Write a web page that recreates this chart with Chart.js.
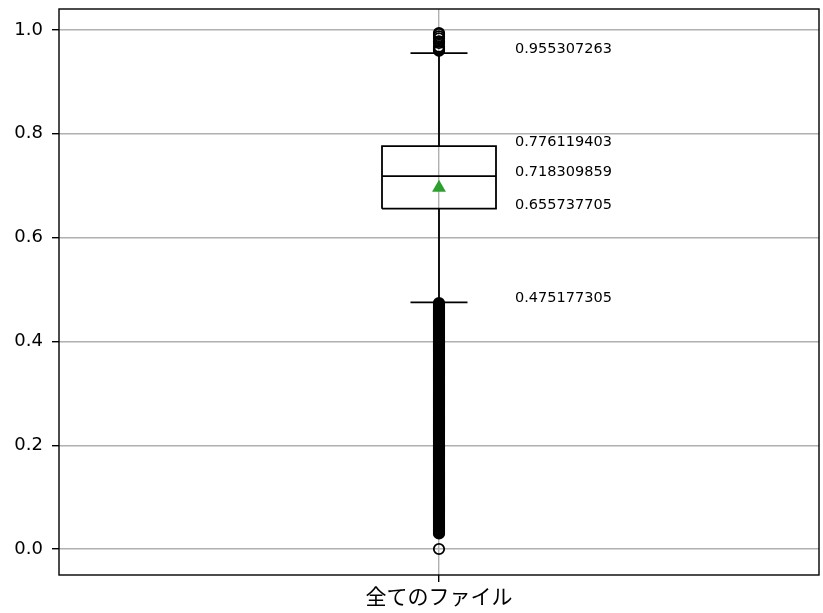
<!DOCTYPE html>
<html>
<head>
<meta charset="utf-8">
<script src="https://cdn.jsdelivr.net/npm/chart.js@4.4.0/dist/chart.umd.min.js"></script>
<style>
  html, body { margin: 0; padding: 0; background: #fff; overflow: hidden; }
  #wrap { width: 823px; height: 613px; }
  canvas { display: block; }
</style>
</head>
<body>
<div id="wrap"><canvas id="boxChart"></canvas></div>
<script>
// 箱ひげ図の値
const categories = ['全てのファイル'];
const whiskerLow = 0.475177305;
const q1 = 0.655737705;
const median = 0.718309859;
const q3 = 0.776119403;
const whiskerHigh = 0.955307263;
const meanValue = 0.696;
const outliersHigh = [0.96, 0.962, 0.965, 0.968, 0.975, 0.978, 0.984, 0.988, 0.992, 0.994];
// 下側の外れ値 (ほぼ連続して並んでいる)
const outliersLow = [
    0.474, 0.472, 0.470, 0.468, 0.466, 0.464, 0.462, 0.460, 0.458, 0.456, 0.454, 0.452,
    0.450, 0.448, 0.446, 0.444, 0.442, 0.440, 0.438, 0.436, 0.434, 0.432, 0.430, 0.428,
    0.426, 0.424, 0.422, 0.420, 0.418, 0.416, 0.414, 0.412, 0.410, 0.408, 0.406, 0.404,
    0.402, 0.400, 0.398, 0.396, 0.394, 0.392, 0.390, 0.388, 0.386, 0.384, 0.382, 0.380,
    0.378, 0.376, 0.374, 0.372, 0.370, 0.368, 0.366, 0.364, 0.362, 0.360, 0.358, 0.356,
    0.354, 0.352, 0.350, 0.348, 0.346, 0.344, 0.342, 0.340, 0.338, 0.336, 0.334, 0.332,
    0.330, 0.328, 0.326, 0.324, 0.322, 0.320, 0.318, 0.316, 0.314, 0.312, 0.310, 0.308,
    0.306, 0.304, 0.302, 0.300, 0.298, 0.296, 0.294, 0.292, 0.290, 0.288, 0.286, 0.284,
    0.282, 0.280, 0.278, 0.276, 0.274, 0.272, 0.270, 0.268, 0.266, 0.264, 0.262, 0.260,
    0.258, 0.256, 0.254, 0.252, 0.250, 0.248, 0.246, 0.244, 0.242, 0.240, 0.238, 0.236,
    0.234, 0.232, 0.230, 0.228, 0.226, 0.224, 0.222, 0.220, 0.218, 0.216, 0.214, 0.212,
    0.210, 0.208, 0.206, 0.204, 0.202, 0.200, 0.198, 0.196, 0.194, 0.192, 0.190, 0.188,
    0.186, 0.184, 0.182, 0.180, 0.178, 0.176, 0.174, 0.172, 0.170, 0.168, 0.166, 0.164,
    0.162, 0.160, 0.158, 0.156, 0.154, 0.152, 0.150, 0.148, 0.146, 0.144, 0.142, 0.140,
    0.138, 0.136, 0.134, 0.132, 0.130, 0.128, 0.126, 0.124, 0.122, 0.120, 0.118, 0.116,
    0.114, 0.112, 0.110, 0.108, 0.106, 0.104, 0.102, 0.100, 0.098, 0.096, 0.094, 0.092,
    0.090, 0.088, 0.086, 0.084, 0.082, 0.080, 0.078, 0.076, 0.074, 0.072, 0.070, 0.068,
    0.066, 0.064, 0.062, 0.060, 0.058, 0.056, 0.054, 0.052, 0.050, 0.048, 0.046, 0.044,
    0.042, 0.040, 0.038, 0.036, 0.034, 0.032, 0.030, 0.0
];
const yTicks = [0.0, 0.2, 0.4, 0.6, 0.8, 1.0];
const labelValues = [whiskerHigh, q3, median, q1, whiskerLow];

const pos = 1;        // 箱の位置
const halfBox = 0.075;
const halfCap = 0.0375;
const lineW = 1.8;

function seg(x1, y1, x2, y2) {
    return [{ x: x1, y: y1 }, { x: x2, y: y2 }];
}

function lineSet(data) {
    return {
        type: 'scatter',
        data: data,
        showLine: true,
        borderColor: '#000',
        borderWidth: lineW,
        pointRadius: 0,
        pointHoverRadius: 0,
        fill: false
    };
}

// ラベル分の余白を消して描画領域を固定する
function noPad(s) {
    s.paddingTop = 0;
    s.paddingBottom = 0;
    s.paddingLeft = 0;
    s.paddingRight = 0;
}

// 枠線と数値ラベル
const framePlugin = {
    id: 'frame',
    afterDatasetsDraw(chart) {
        const { ctx, chartArea, scales } = chart;
        ctx.save();
        ctx.strokeStyle = '#000';
        ctx.lineWidth = 1.4;
        ctx.strokeRect(chartArea.left, chartArea.top, chartArea.right - chartArea.left, chartArea.bottom - chartArea.top);
        ctx.fillStyle = '#000';
        ctx.font = '14.5px "DejaVu Sans"';
        ctx.textBaseline = 'alphabetic';
        ctx.textAlign = 'left';
        labelValues.forEach(v => {
            ctx.fillText(String(v), scales.x.getPixelForValue(1.1), scales.y.getPixelForValue(v));
        });
        ctx.restore();
    }
};

const ctx = document.getElementById('boxChart').getContext('2d');
const chart = new Chart(ctx, {
    type: 'scatter',
    data: {
        datasets: [
            lineSet([
                { x: pos - halfBox, y: q1 }, { x: pos + halfBox, y: q1 },
                { x: pos + halfBox, y: q3 }, { x: pos - halfBox, y: q3 },
                { x: pos - halfBox, y: q1 }
            ]),
            lineSet(seg(pos - halfBox, median, pos + halfBox, median)),
            lineSet(seg(pos, q3, pos, whiskerHigh)),
            lineSet(seg(pos, q1, pos, whiskerLow)),
            lineSet(seg(pos - halfCap, whiskerHigh, pos + halfCap, whiskerHigh)),
            lineSet(seg(pos - halfCap, whiskerLow, pos + halfCap, whiskerLow)),
            {
                type: 'scatter',
                data: outliersHigh.concat(outliersLow).map(v => ({ x: pos, y: v })),
                pointRadius: 5.2,
                pointBorderWidth: lineW,
                borderColor: '#000',
                backgroundColor: 'rgba(0,0,0,0)'
            },
            {
                type: 'scatter',
                data: [{ x: pos, y: meanValue }],
                pointStyle: 'triangle',
                pointRadius: 8,
                borderWidth: 0,
                backgroundColor: '#2ca02c',
                borderColor: '#2ca02c'
            }
        ]
    },
    options: {
        responsive: true,
        maintainAspectRatio: false,
        animation: false,
        layout: { autoPadding: false, padding: { top: 9, right: 4, left: 0, bottom: 0 } },
        plugins: {
            legend: { display: false },
            tooltip: { enabled: false }
        },
        scales: {
            x: {
                type: 'linear',
                min: 0.5,
                max: 1.5,
                afterBuildTicks: s => { s.ticks = [{ value: pos }]; },
                afterFit: s => { s.height = 38; noPad(s); },
                ticks: {
                    callback: () => categories[0],
                    color: '#000',
                    font: { family: '"Noto Sans CJK JP"', size: 21 },
                    padding: 1,
                    maxRotation: 0
                },
                grid: { color: '#b0b0b0', lineWidth: 1.4, tickColor: '#000', tickLength: 7 },
                border: { display: false }
            },
            y: {
                type: 'linear',
                min: -0.0501,
                max: 1.0405,
                afterBuildTicks: s => { s.ticks = yTicks.map(v => ({ value: v })); },
                afterFit: s => { s.width = 59; noPad(s); },
                ticks: {
                    callback: v => v.toFixed(1),
                    color: '#000',
                    font: { family: '"DejaVu Sans"', size: 18 },
                    padding: 9
                },
                grid: { color: '#b0b0b0', lineWidth: 1.4, tickColor: '#000', tickLength: 7 },
                border: { display: false }
            }
        }
    },
    plugins: [framePlugin]
});
</script>
</body>
</html>
